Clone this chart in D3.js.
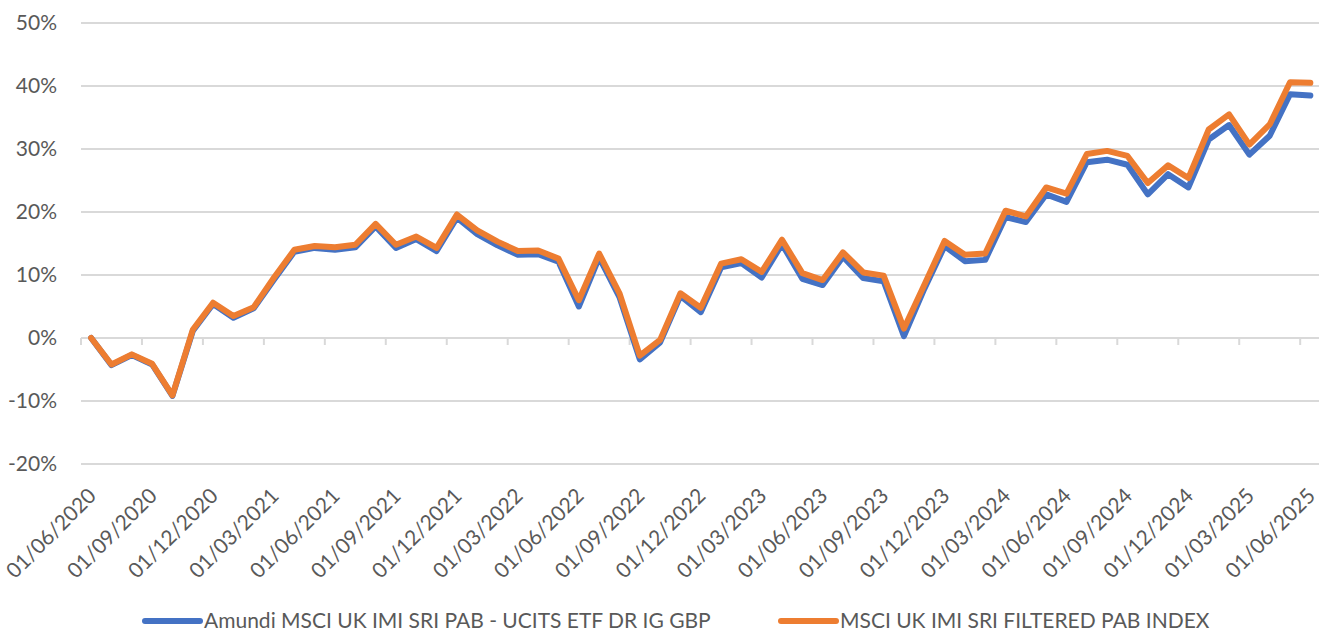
<!DOCTYPE html>
<html>
<head>
<meta charset="utf-8">
<script src="https://cdn.jsdelivr.net/npm/d3@7"></script>
<style>
    body { margin: 0; background: #fff; }
    svg { display: block; font-family: Lato, "Open Sans", sans-serif; }
    .lbl { fill: #595959; font-size: 21px; }
</style>
</head>
<body>
<svg id="chart" width="1319" height="633"></svg>
<script>
// monthly dates, 01/06/2020 .. 01/06/2025
var months = d3.timeMonth.range(new Date(2020, 5, 1), new Date(2025, 6, 1));

// cumulative performance in %
var fundValues = [
    0, -4.3, -2.7, -4.2, -9.2, 1.1, 5.4, 3.2, 4.7, 9.3,
    13.7, 14.3, 14.0, 14.4, 17.7, 14.3, 15.7, 13.8, 19.1, 16.5,
    14.7, 13.2, 13.3, 12.1, 5.0, 12.8, 6.5, -3.4, -0.7, 6.7,
    4.1, 11.2, 11.9, 9.6, 14.9, 9.4, 8.4, 12.9, 9.5, 9.0,
    0.3, 7.8, 14.6, 12.2, 12.4, 19.2, 18.4, 22.8, 21.6, 27.9,
    28.3, 27.5, 22.8, 26.0, 23.9, 31.5, 33.8, 29.1, 32.1, 38.7,
    38.5
];
var indexValues = [
    0, -4.2, -2.6, -4.1, -9.1, 1.3, 5.6, 3.5, 4.9, 9.6,
    14.0, 14.6, 14.4, 14.8, 18.1, 14.8, 16.1, 14.3, 19.6, 17.1,
    15.3, 13.8, 13.9, 12.6, 6.0, 13.4, 7.1, -2.8, -0.3, 7.1,
    4.8, 11.8, 12.5, 10.5, 15.6, 10.3, 9.2, 13.6, 10.4, 9.9,
    1.5, 8.4, 15.4, 13.2, 13.4, 20.2, 19.3, 23.9, 22.9, 29.2,
    29.7, 28.9, 24.6, 27.4, 25.4, 33.1, 35.5, 30.7, 33.9, 40.6,
    40.5
];

var seriesNames = ["Amundi MSCI UK IMI SRI PAB - UCITS ETF DR IG GBP", "MSCI UK IMI SRI FILTERED PAB INDEX"];
var seriesColors = ["#4472C4", "#ED7D31"];
var yTicks = [-20, -10, 0, 10, 20, 30, 40, 50];

var fmt = d3.timeFormat("%d/%m/%Y");
var svg = d3.select("#chart");

var x = d3.scalePoint()
    .domain(d3.range(months.length))
    .range([81, 1320.5])
    .padding(0.5);
var step = x.step();

var y = d3.scaleLinear().domain([-20, 50]).range([464, 23]);

// gridlines
svg.append("g").selectAll("line")
    .data(yTicks)
    .join("line")
    .attr("x1", 81).attr("x2", 1320.5)
    .attr("y1", function(d) { return y(d); })
    .attr("y2", function(d) { return y(d); })
    .attr("stroke", "#d9d9d9")
    .attr("stroke-width", 2);

// y labels
svg.append("g").selectAll("text")
    .data(yTicks)
    .join("text")
    .attr("class", "lbl")
    .attr("x", 57)
    .attr("y", function(d) { return y(d); })
    .attr("dy", "0.35em")
    .attr("text-anchor", "end")
    .text(function(d) { return d + "%"; });

// category tick marks every 3 months (between categories)
var quarterIdx = d3.range(0, months.length, 3);
svg.append("g").selectAll("line")
    .data(quarterIdx)
    .join("line")
    .attr("x1", function(i) { return x(i) - step / 2; })
    .attr("x2", function(i) { return x(i) - step / 2; })
    .attr("y1", y(0))
    .attr("y2", y(0) + 7)
    .attr("stroke", "#d9d9d9")
    .attr("stroke-width", 2);

// x labels
svg.append("g").selectAll("text")
    .data(quarterIdx)
    .join("text")
    .attr("class", "lbl")
    .attr("text-anchor", "end")
    .attr("dy", "0.35em")
    .attr("transform", function(i) { return "translate(" + (x(i) + 1) + ",492) rotate(-45)"; })
    .text(function(i) { return fmt(months[i]); });

// lines
var line = d3.line()
    .x(function(d, i) { return x(i); })
    .y(function(d) { return y(d); });

[fundValues, indexValues].forEach(function(vals, k) {
    svg.append("path")
        .datum(vals)
        .attr("d", line)
        .attr("fill", "none")
        .attr("stroke", seriesColors[k])
        .attr("stroke-width", 6)
        .attr("stroke-linejoin", "round")
        .attr("stroke-linecap", "round");
});

// legend
var legendX = [145, 781];
var legend = svg.append("g").selectAll("g")
    .data(seriesNames)
    .join("g")
    .attr("transform", function(d, i) { return "translate(" + legendX[i] + ",621)"; });

legend.append("line")
    .attr("x1", 0).attr("x2", 55)
    .attr("stroke", function(d, i) { return seriesColors[i]; })
    .attr("stroke-width", 6)
    .attr("stroke-linecap", "round");

legend.append("text")
    .attr("class", "lbl")
    .attr("x", 59)
    .attr("dy", "0.35em")
    .text(function(d) { return d; });
</script>
</body>
</html>
